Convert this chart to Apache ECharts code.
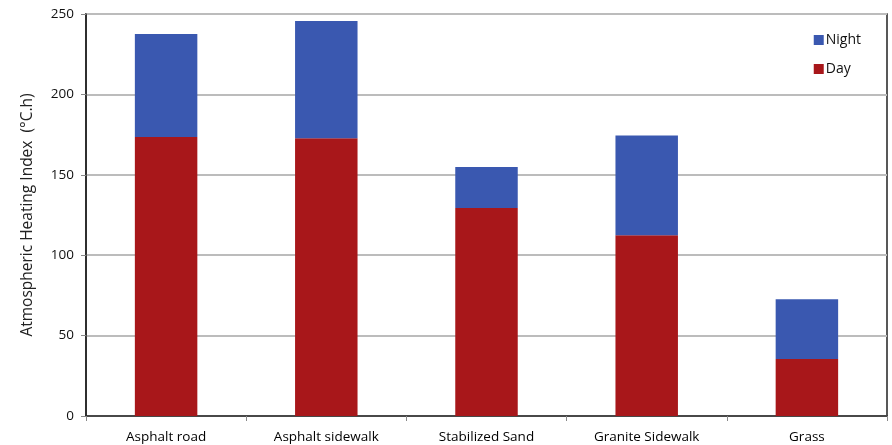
<!DOCTYPE html>
<html><head><meta charset="utf-8">
<script src="https://cdn.jsdelivr.net/npm/echarts@6/dist/echarts.min.js"></script>
<style>html,body{margin:0;padding:0;background:#fff}#c{width:892px;height:445px}</style>
</head><body><div id="c"></div>
<script>
const categories = ["Asphalt road", "Asphalt sidewalk", "Stabilized Sand", "Granite Sidewalk", "Grass"];
const dayValues = [173.5, 172.8, 129.3, 112.4, 35.4];
const totalValues = [237.5, 245.6, 154.8, 174.4, 72.6];
const nightValues = totalValues.map((t, i) => +(t - dayValues[i]).toFixed(1));
const yTicks = [0, 50, 100, 150, 200, 250];

const chart = echarts.init(document.getElementById('c'), null, {renderer: 'canvas'});
const font = "'Open Sans', 'Noto Sans', sans-serif";
chart.setOption({
  animation: false,
  backgroundColor: '#fff',
  grid: {left: 86, right: 5, top: 14, bottom: 29, show: true, borderColor: '#222', borderWidth: 1.5, backgroundColor: 'transparent'},
  legend: {
    orient: 'vertical', right: 26, top: 28, itemWidth: 10, itemHeight: 10, itemGap: 15,
    data: ['Night', 'Day'],
    textStyle: {fontFamily: font, fontSize: 14, color: '#111', padding: [0, 0, 0, -3]},
    icon: 'rect'
  },
  xAxis: {
    type: 'category', data: categories,
    axisLine: {lineStyle: {color: '#222', width: 1.5}},
    axisTick: {show: true, length: 5, lineStyle: {color: '#888'}},
    axisLabel: {fontFamily: font, fontSize: 13.5, color: '#000', margin: 14}
  },
  yAxis: {
    type: 'value', min: 0, max: 250, interval: 50,
    name: 'Atmospheric Heating Index  (°C.h)', nameLocation: 'middle', nameGap: 50,
    nameTextStyle: {fontFamily: font, fontSize: 15.5, color: '#222'},
    axisLine: {show: true, lineStyle: {color: '#222', width: 1.5}},
    axisTick: {show: true, length: 5, lineStyle: {color: '#888'}},
    axisLabel: {fontFamily: font, fontSize: 13.5, color: '#111', margin: 12,
      formatter: v => yTicks.includes(v) ? String(v) : ''},
    splitLine: {lineStyle: {color: '#bcbcbc', width: 2}}
  },
  series: [
    {name: 'Day', type: 'bar', stack: 's', data: dayValues, barWidth: '39%',
     itemStyle: {color: '#A8171A'}},
    {name: 'Night', type: 'bar', stack: 's', data: nightValues, barWidth: '39%',
     itemStyle: {color: '#3A58B0'}}
  ]
});
</script></body></html>
